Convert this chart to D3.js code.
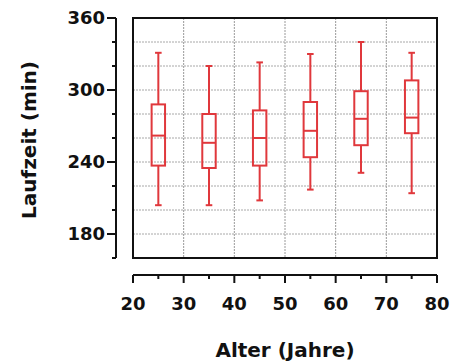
<!DOCTYPE html>
<html><head><meta charset="utf-8">
<script src="https://cdn.jsdelivr.net/npm/d3@7"></script>
<style>body{margin:0;background:#fff}svg{display:block}</style>
</head><body>
<svg id="c" width="468" height="361"></svg>
<script>
const ages = [25, 35, 45, 55, 65, 75];
const whiskerLow = [204, 204, 208, 217, 231, 214];
const q1 = [237, 235, 237, 244, 254, 264];
const median = [262, 256, 260, 266, 276, 277];
const q3 = [288, 280, 283, 290, 299, 308];
const whiskerHigh = [331, 320, 323, 330, 340, 331];
const xTicks = [20, 30, 40, 50, 60, 70, 80];
const yTicks = [180, 240, 300, 360];

const svg = d3.select("#c");
const x = d3.scaleLinear().domain([20, 80]).range([133, 437]);
const y = d3.scaleLinear().domain([160, 360]).range([258, 18]);
const font = "'DejaVu Sans', sans-serif";
const red = "#e0383c";

// grid
const grid = svg.append("g");
grid.selectAll("line.v").data([30, 40, 50, 60, 70]).join("line")
  .attr("x1", d => x(d)).attr("x2", d => x(d)).attr("y1", y(360)).attr("y2", y(160))
  .attr("stroke", "#9a9a9a").attr("stroke-width", 1).attr("stroke-dasharray", "2,1");
grid.selectAll("line.h").data(d3.range(180, 360, 20)).join("line")
  .attr("x1", x(20)).attr("x2", x(80)).attr("y1", d => y(d)).attr("y2", d => y(d))
  .attr("stroke", "#a8a8a8").attr("stroke-width", 1).attr("stroke-dasharray", "2,1");

// frame
svg.append("rect").attr("x", x(20)).attr("y", y(360)).attr("width", x(80) - x(20)).attr("height", y(160) - y(360))
  .attr("fill", "none").attr("stroke", "#111").attr("stroke-width", 2);

// boxes
const bw = x(22.65) - x(20);
const cw = x(21.3) - x(20);
const g = svg.append("g").attr("stroke", red).attr("fill", "none").attr("stroke-width", 2);
ages.forEach((a, i) => {
  const cx = x(a);
  g.append("line").attr("x1", cx).attr("x2", cx).attr("y1", y(whiskerHigh[i])).attr("y2", y(q3[i]));
  g.append("line").attr("x1", cx).attr("x2", cx).attr("y1", y(q1[i])).attr("y2", y(whiskerLow[i]));
  g.append("line").attr("x1", cx - cw / 2).attr("x2", cx + cw / 2).attr("y1", y(whiskerHigh[i])).attr("y2", y(whiskerHigh[i]));
  g.append("line").attr("x1", cx - cw / 2).attr("x2", cx + cw / 2).attr("y1", y(whiskerLow[i])).attr("y2", y(whiskerLow[i]));
  g.append("rect").attr("x", cx - bw / 2).attr("width", bw).attr("y", y(q3[i])).attr("height", y(q1[i]) - y(q3[i]));
  g.append("line").attr("x1", cx - bw / 2).attr("x2", cx + bw / 2).attr("y1", y(median[i])).attr("y2", y(median[i]));
});

// y axis (offset)
const yAx = svg.append("g").attr("transform", "translate(116,0)");
yAx.append("line").attr("x1", 0).attr("x2", 0).attr("y1", y(360)).attr("y2", y(160)).attr("stroke", "#111").attr("stroke-width", 2);
yAx.selectAll("line.mi").data(d3.range(160, 361, 20)).join("line")
  .attr("x1", -4).attr("x2", 0).attr("y1", d => y(d)).attr("y2", d => y(d)).attr("stroke", "#111").attr("stroke-width", 2);
yAx.selectAll("line.ma").data(yTicks).join("line")
  .attr("x1", -9).attr("x2", 0).attr("y1", d => y(d)).attr("y2", d => y(d)).attr("stroke", "#111").attr("stroke-width", 2);
yAx.selectAll("text").data(yTicks).join("text")
  .attr("x", -11).attr("y", d => y(d)).attr("dy", "0.36em").attr("text-anchor", "end")
  .attr("font-family", font).attr("font-size", 18).attr("font-weight", "bold").attr("fill", "#111").text(d => d);

// x axis (offset)
const xAx = svg.append("g").attr("transform", "translate(0,275)");
xAx.append("line").attr("x1", x(20)).attr("x2", x(80)).attr("y1", 0).attr("y2", 0).attr("stroke", "#111").attr("stroke-width", 2);
xAx.selectAll("line.mi").data(d3.range(25, 80, 10)).join("line")
  .attr("x1", d => x(d)).attr("x2", d => x(d)).attr("y1", 0).attr("y2", 4).attr("stroke", "#111").attr("stroke-width", 2);
xAx.selectAll("line.ma").data(xTicks).join("line")
  .attr("x1", d => x(d)).attr("x2", d => x(d)).attr("y1", 0).attr("y2", 8).attr("stroke", "#111").attr("stroke-width", 2);
xAx.selectAll("text").data(xTicks).join("text")
  .attr("x", d => x(d)).attr("y", 35).attr("text-anchor", "middle")
  .attr("font-family", font).attr("font-size", 18).attr("font-weight", "bold").attr("fill", "#111").text(d => d);

// titles
svg.append("text").attr("x", 285).attr("y", 357).attr("text-anchor", "middle")
  .attr("font-family", font).attr("font-size", 20).attr("font-weight", "bold").attr("fill", "#111").text("Alter (Jahre)");
svg.append("text").attr("transform", "translate(36,140) rotate(-90)").attr("text-anchor", "middle")
  .attr("font-family", font).attr("font-size", 20).attr("font-weight", "bold").attr("fill", "#111").text("Laufzeit (min)");
</script>
</body></html>
